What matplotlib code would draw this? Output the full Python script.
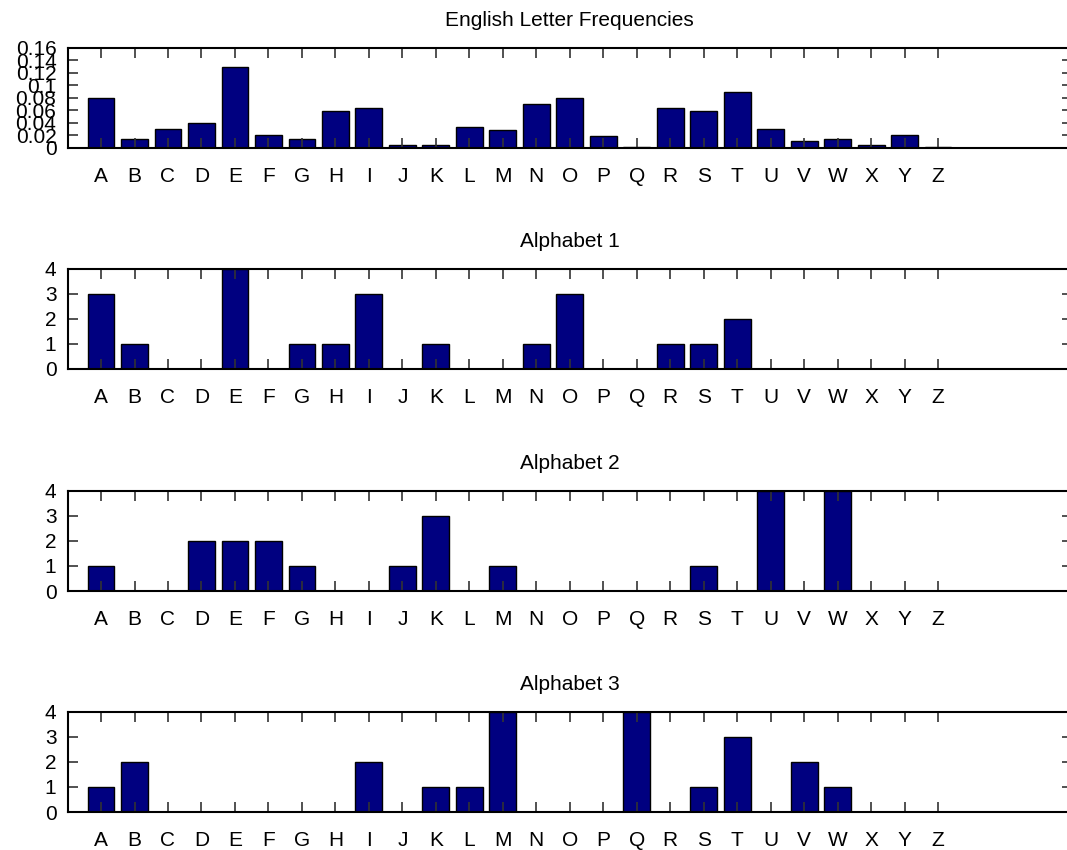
import matplotlib.pyplot as plt
import numpy as np

plt.rcParams['font.family'] = ['Liberation Sans', 'DejaVu Sans']

letters = list('ABCDEFGHIJKLMNOPQRSTUVWXYZ')
english_freq = [0.079, 0.015, 0.030, 0.040, 0.129, 0.020, 0.014, 0.059, 0.064,
                0.005, 0.005, 0.034, 0.029, 0.070, 0.079, 0.0195, 0.002, 0.064,
                0.059, 0.089, 0.030, 0.0105, 0.015, 0.005, 0.020, 0.002]
alphabet1 = [3, 1, 0, 0, 4, 0, 1, 1, 3, 0, 1, 0, 0, 1, 3, 0, 0, 1, 1, 2,
             0, 0, 0, 0, 0, 0]
alphabet2 = [1, 0, 0, 2, 2, 2, 1, 0, 0, 1, 3, 0, 1, 0, 0, 0, 0, 0, 1, 0,
             4, 0, 4, 0, 0, 0]
alphabet3 = [1, 2, 0, 0, 0, 0, 0, 0, 2, 0, 1, 1, 4, 0, 0, 0, 4, 0, 1, 3,
             0, 2, 1, 0, 0, 0]

titles = ['English Letter Frequencies', 'Alphabet 1', 'Alphabet 2', 'Alphabet 3']
series = [english_freq, alphabet1, alphabet2, alphabet3]

fig = plt.figure(figsize=(10.67, 8.5), dpi=100)
x = np.arange(1, len(letters) + 1)

# axes boxes in figure coords (right edge runs slightly past the canvas)
bottoms = [0.8259, 0.5659, 0.3047, 0.0447]
for i, (vals, title) in enumerate(zip(series, titles)):
    ax = fig.add_axes([0.0633, bottoms[i], 0.9414, 0.1182])
    ax.bar(x, vals, width=0.8, color='#000080', edgecolor='black', linewidth=1.0)
    ax.set_xlim(0, 30)
    ax.set_xticks(x)
    ax.set_xticklabels(letters)
    if i == 0:
        ax.set_ylim(0, 0.16)
        yt = np.arange(0, 0.161, 0.02)
        ax.set_yticks(yt)
        ax.set_yticklabels(['%g' % round(v, 2) for v in yt])
    else:
        ax.set_ylim(0, 4)
        ax.set_yticks([0, 1, 2, 3, 4])
    ax.tick_params(direction='in', top=True, right=True, length=7, width=1.2,
                   labelsize=15, color='#333333')
    ax.tick_params(axis='x', pad=14)
    ax.tick_params(axis='y', pad=8)
    for s in ax.spines.values():
        s.set_linewidth(1.5)
    ax.set_title(title, fontsize=15, pad=15.5)

fig.savefig('out.png', dpi=100)
